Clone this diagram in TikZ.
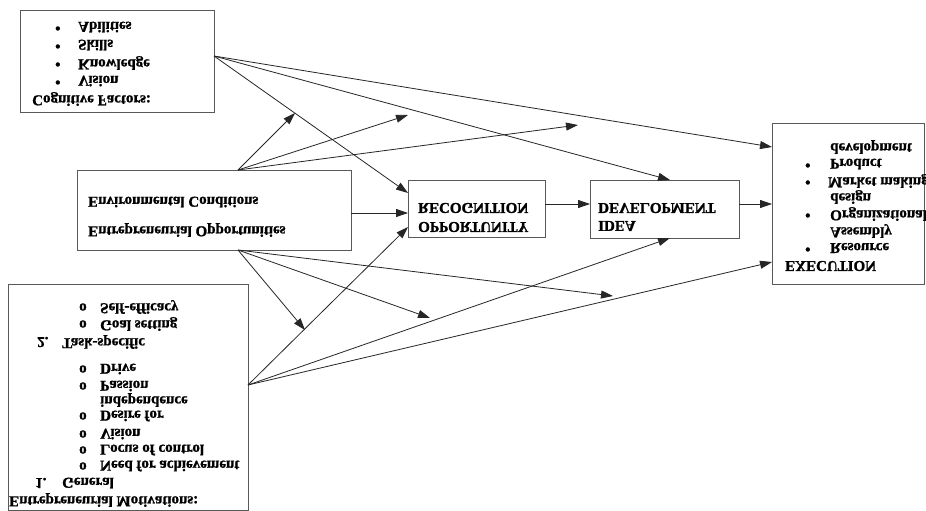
\documentclass[tikz,border=0pt]{standalone}
\usepackage{graphicx}
\usepackage{fontspec}
\setmainfont{Liberation Serif}[BoldFeatures={FakeBold=1.2}]
\usetikzlibrary{arrows.meta}
\newcommand{\vflip}[1]{\scalebox{1}[-1]{#1}}
\begin{document}
\begin{tikzpicture}[x=1pt,y=-1pt,
  box/.style={draw=black!65, line width=0.9pt, inner sep=0pt},
  lbl/.style={anchor=west, inner sep=0pt, yshift=-2pt, text=black, font=\bfseries\fontsize{15}{18}\selectfont},
  arr/.style={draw=black!85, line width=0.8pt, -{Triangle[length=12pt,width=8pt]}}]
\useasboundingbox (0,0) rectangle (926,511);
\fill[white] (0,0) rectangle (926,511);
% boxes
\node[box, minimum width=194pt, minimum height=102pt] (cog) at (117,61) {};
\node[box, minimum width=274pt, minimum height=80pt] (env) at (214,210) {};
\node[box, minimum width=137pt, minimum height=57pt] (rec) at (476.5,208.5) {};
\node[box, minimum width=149pt, minimum height=58pt] (idea) at (664.5,209) {};
\node[box, minimum width=152pt, minimum height=161pt] (exe) at (848,203.5) {};
\node[box, minimum width=240pt, minimum height=226pt] (mot) at (128,397) {};
% cognitive texts
\foreach \y/\t [count=\i] in {25/Abilities,43/Skills,61/Knowledge,79/Vision}{
  \node[lbl] (cb\i) at (55,\y) {\vflip{•}};
  \node[lbl] (ct\i) at (78,\y) {\vflip{\t}};
}
\node[lbl] (cogt) at (32,97) {\vflip{Cognitive Factors:}};
% environment
\node[lbl] (env1) at (88,200) {\vflip{Environmental Conditions}};
\node[lbl] (env2) at (88,228) {\vflip{Entrepreneurial Opportunities}};
% recognition / idea
\node[lbl] (rec1) at (418,206) {\vflip{RECOGNITION}};
\node[lbl] (rec2) at (418,225) {\vflip{OPPORTUNITY}};
\node[lbl] (idea1) at (598,206) {\vflip{DEVELOPMENT}};
\node[lbl] (idea2) at (598,224) {\vflip{IDEA}};
% execution
\node[lbl] (ex1) at (830,145) {\vflip{development}};
\node[lbl] (ex2) at (830,162) {\vflip{Product}};
\node[lbl] (ex3) at (828,179) {\vflip{Market making}};
\node[lbl] (ex4) at (830,195) {\vflip{design}};
\node[lbl] (ex5) at (830,212) {\vflip{Organizational}};
\node[lbl] (ex6) at (830,229) {\vflip{Assembly}};
\node[lbl] (ex7) at (830,246) {\vflip{Resource}};
\node[lbl] (ex8) at (785,264) {\vflip{EXECUTION}};
\node[lbl] (eb1) at (805,162) {\vflip{•}};
\node[lbl] (eb2) at (805,179) {\vflip{•}};
\node[lbl] (eb3) at (805,212) {\vflip{•}};
\node[lbl] (eb4) at (805,246) {\vflip{•}};
% motivations
\node[lbl] (m1) at (100,305) {\vflip{Self-efficacy}};
\node[lbl] (m2) at (100,322) {\vflip{Goal setting}};
\node[lbl] (m3a) at (37,340) {\vflip{2.}};
\node[lbl] (m3b) at (62,340) {\vflip{Task-specific}};
\node[lbl] (m4) at (100,367) {\vflip{Drive}};
\node[lbl] (m5) at (100,384) {\vflip{Passion}};
\node[lbl] (m6) at (100,398) {\vflip{independence}};
\node[lbl] (m7) at (100,414) {\vflip{Desire for}};
\node[lbl] (m8) at (100,432) {\vflip{Vision}};
\node[lbl] (m9) at (100,448) {\vflip{Locus of control}};
\node[lbl] (m10) at (100,464) {\vflip{Need for achievement}};
\node[lbl] (m11a) at (35,481) {\vflip{1.}};
\node[lbl] (m11b) at (62,481) {\vflip{General}};
\node[lbl] (m12) at (9,498) {\vflip{Entrepreneurial Motivations:}};
\foreach \y [count=\i] in {305,322,367,384,414,432,448,464}{
  \node[lbl] (mo\i) at (79,\y) {\vflip{o}};
}
% connector coordinates
\coordinate (c1) at (214,56);
\coordinate (e1) at (238,170);
\coordinate (e2) at (238,250);
\coordinate (mm) at (248,385);
\coordinate (recA) at (408,193);
\coordinate (recB) at (408,213);
\coordinate (recC) at (408,227);
\coordinate (envR) at (351,213);
\coordinate (ideaT) at (670,180);
\coordinate (ideaB) at (670,238);
\coordinate (exA) at (772,147);
\coordinate (exB) at (772,204);
\coordinate (exC) at (772,262);
\coordinate (recR) at (545,204);
\coordinate (ideaL) at (590,204);
\coordinate (ideaR) at (739,204);
\coordinate (f1) at (295,113);
\coordinate (f2) at (408,115);
\coordinate (f3) at (578,125);
\coordinate (g1) at (305,330);
\coordinate (g2) at (430,318);
\coordinate (g3) at (613,296);
% arrows
\draw[arr] (c1) -- (recA);
\draw[arr] (c1) -- (ideaT);
\draw[arr] (c1) -- (exA);
\draw[arr] (e1) -- (f1);
\draw[arr] (e1) -- (f2);
\draw[arr] (e1) -- (f3);
\draw[arr] (envR) -- (recB);
\draw[arr] (e2) -- (g1);
\draw[arr] (e2) -- (g2);
\draw[arr] (e2) -- (g3);
\draw[arr] (mm) -- (recC);
\draw[arr] (mm) -- (ideaB);
\draw[arr] (mm) -- (exC);
\draw[arr] (recR) -- (ideaL);
\draw[arr] (ideaR) -- (exB);
\end{tikzpicture}
\end{document}
